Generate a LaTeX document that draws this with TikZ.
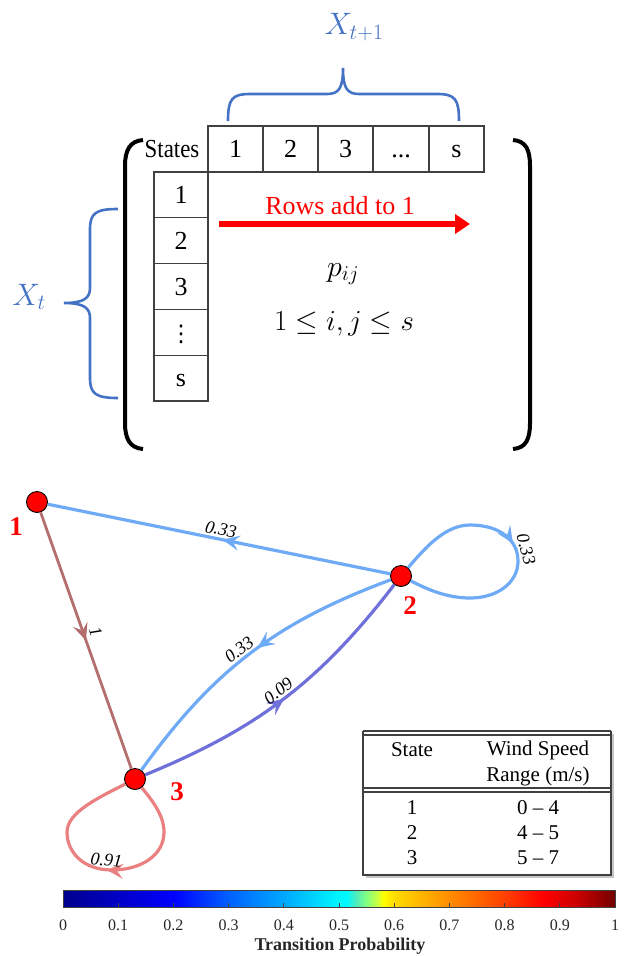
\RequirePackage{fix-cm}
\documentclass[tikz,border=0pt]{standalone}
\usepackage{fontspec}
\setmainfont{Liberation Serif}
\newfontfamily\djv{DejaVu Sans}
\usetikzlibrary{arrows.meta,decorations.markings}
\definecolor{bbrace}{RGB}{68,114,196}
\definecolor{eblue}{RGB}{110,170,245}
\definecolor{epurp}{RGB}{112,112,218}
\definecolor{ebrown}{RGB}{180,110,110}
\definecolor{epink}{RGB}{234,128,128}
\definecolor{gridc}{RGB}{64,64,64}
\definecolor{txtc}{RGB}{38,38,38}
\pgfdeclarehorizontalshading{jetbar}{100bp}{rgb(0bp)=(0,0,0.55); rgb(25bp)=(0,0,0.55);
 rgb(30bp)=(0,0,0.78); rgb(35bp)=(0,0,1); rgb(40bp)=(0,0.38,1); rgb(45bp)=(0,0.66,1);
 rgb(50bp)=(0,0.97,1); rgb(50.7bp)=(0,0.97,1); rgb(51.5bp)=(0.3,0.92,0.75); rgb(52.5bp)=(0.52,1,0.5);
 rgb(53.5bp)=(0.8,1,0.25); rgb(54bp)=(1,1,0); rgb(55bp)=(1,0.86,0); rgb(60bp)=(1,0.55,0);
 rgb(65bp)=(1,0.25,0); rgb(68.5bp)=(1,0,0); rgb(71.5bp)=(0.8,0,0); rgb(75bp)=(0.45,0,0); rgb(100bp)=(0.45,0,0)}
\tikzset{
  fs/.style={font=\fontsize{#1}{#1}\selectfont},
  cell/.style={draw=gridc, line width=1.2pt, minimum width=55pt, minimum height=46pt, inner sep=0pt,
     text height=17.6pt, text depth=0pt, fs=26},
  vcell/.style={draw=gridc, line width=1.2pt, minimum width=54pt, minimum height=45.8pt, inner sep=0pt,
     text height=17.6pt, text depth=0pt, fs=26},
  bracestyle/.style={bbrace, line width=2.6pt},
  brk/.style={black, line width=4pt},
  state/.style={circle, fill=red, draw=black, line width=0.9pt, minimum size=21pt, inner sep=0pt},
  slabel/.style={text=red, font=\fontsize{27}{27}\selectfont\bfseries},
  elab/.style={font=\fontsize{18}{18}\selectfont\itshape, inner sep=2pt, text=black},
  edge/.style={line width=3.2pt},
  midarrow/.style={postaction={decorate}, decoration={markings,
     mark=at position #1 with {\arrow{Stealth[length=17pt,width=15pt,inset=6.5pt]}}}},
  tabtxt/.style={fs=21, text=black},
  tab/.style={gridc, line width=1.2pt},
}
\begin{document}
\begin{tikzpicture}[x=1pt,y=-1pt]
\useasboundingbox (0,0) rectangle (625,956);

% ---------- top: transition matrix ----------
\node[text=bbrace, fs=31] (xt1) at (354,27) {$X_{t+1}$};
\node[text=bbrace, fs=31] (xt) at (29,297) {$X_t$};

% top brace
\draw[bracestyle] (228,121) .. controls (228,99) and (232,94) .. (250,94) -- (327,94)
  .. controls (339,94) and (343,88) .. (343,68) .. controls (343,88) and (347,94) .. (359,94)
  -- (437,94) .. controls (455,94) and (459,99) .. (459,121);
% left brace
\draw[bracestyle] (118,209) .. controls (96,209) and (90,213) .. (90,229) -- (90,288)
  .. controls (90,298) and (84,303) .. (64,303) .. controls (84,303) and (90,308) .. (90,318)
  -- (90,378) .. controls (90,394) and (96,398) .. (118,398);

% big brackets
\draw[brk] (143,140) .. controls (130,141) and (125,150) .. (125,166) -- (125,423)
  .. controls (125,439) and (130,448) .. (143,449);
\draw[brk] (513,140) .. controls (526,141) and (530,150) .. (530,166) -- (530,423)
  .. controls (530,439) and (526,448) .. (513,449);

% header cells
\node[fs=26, xscale=0.88] (states) at (172,149) {States};
\node[cell] (h1) at (235.5,149) {1};
\node[cell] (h2) at (290.5,149) {2};
\node[cell] (h3) at (345.5,149) {3};
\node[cell, minimum width=56pt] (h4) at (401,149) {...};
\node[cell] (h5) at (456.5,149) {s};
% row cells
\node[vcell] (v1) at (181,194.9) {1};
\node[vcell] (v2) at (181,240.7) {2};
\node[vcell] (v3) at (181,286.5) {3};
\node[vcell, font=\fontsize{23}{23}\djv] (v4) at (181,332.3) {⋮};
\node[vcell] (v5) at (181,378.1) {s};

% rows add to 1
\node[text=red, fs=26] (rows) at (340,206) {Rows add to 1};
\coordinate (ra) at (219,224);
\coordinate (rb) at (470,224);
\draw[red, line width=6pt, -{Triangle[length=15pt,width=19pt]}] (ra) -- (rb);

\node[fs=30] (pij) at (343,274) {$p_{ij}$};
\node[fs=29] (rng) at (344,324) {$1\le i,j\le s$};

% ---------- bottom: Markov chain graph ----------
\node[state] (n1) at (37,502) {};
\node[state] (n2) at (401,576) {};
\node[state] (n3) at (135,779) {};
\node[slabel] (l1) at (16,527) {1};
\node[slabel] (l2) at (410,606) {2};
\node[slabel] (l3) at (177,792) {3};

\draw[edge, eblue, midarrow=0.49] (n2) -- node[pos=0.5, sloped, above, elab] (e21) {0.33} (n1);
\draw[edge, ebrown, line width=2.8pt, midarrow=0.5] (n1) -- node[pos=0.48, sloped, above=3pt, elab] (e13) {1} (n3);
\draw[edge, eblue, midarrow=0.47] (n2) to[bend right=17] node[pos=0.52, sloped, above, elab] (e23) {0.33} (n3);
\draw[edge, epurp, midarrow=0.5] (n3) to[bend right=15] node[pos=0.5, sloped, above, elab] (e32) {0.09} (n2);
% self loop at 2
\draw[edge, eblue, midarrow=0.46] (n2) .. controls (425,548) and (445,525) .. (470,525)
  .. controls (500,525) and (518,540) .. node[pos=0.85, sloped, above, elab] (e22) {0.33} (518,561)
  .. controls (518,583) and (497,598) .. (470,598)
  .. controls (445,598) and (425,588) .. (n2);
% self loop at 3
\draw[edge, epink, midarrow=0.48] (n3) .. controls (150,798) and (164,814) .. (164,832)
  .. controls (164,856) and (140,870) .. (112,870)
  .. controls (84,870) and (67,853) .. node[pos=0.08, sloped, above, elab] (e33) {0.91} (67,832)
  .. controls (67,812) and (100,797) .. (n3);

% ---------- table ----------
\draw[gray!45, line width=1.5pt] (613,734) -- (613,877) -- (366,877);
\draw[tab] (363,731) -- (611,731);
\draw[tab] (363,735) -- (611,735);
\draw[tab] (363,731) -- (363,875) -- (611,875) -- (611,731);
\draw[tab] (363,788) -- (611,788);
\draw[tab] (363,792) -- (611,792);
\node[tabtxt] (th1) at (412,750) {State};
\node[tabtxt] (th2) at (538,750) {Wind Speed};
\node[tabtxt] (th3) at (538,776) {Range (m/s)};
\node[tabtxt] (r1a) at (412,808) {1};
\node[tabtxt] (r1b) at (538,808) {0 – 4};
\node[tabtxt] (r2a) at (412,833) {2};
\node[tabtxt] (r2b) at (538,833) {4 – 5};
\node[tabtxt] (r3a) at (412,858) {3};
\node[tabtxt] (r3b) at (538,858) {5 – 7};

% ---------- colorbar ----------
\shade[shading=jetbar] (63,890) rectangle (615,907);
\draw[gridc, line width=1pt] (63,890) rectangle (615,907);
\foreach \k in {1,...,9} \draw[gridc, line width=0.8pt] ({63+55.2*\k},907) -- ++(0,-4);
\foreach \k/\t in {0/0,1/0.1,2/0.2,3/0.3,4/0.4,5/0.5,6/0.6,7/0.7,8/0.8,9/0.9,10/1}
  \node[fs=16, text=txtc] (tk\k) at ({63+55.2*\k},925) {\t};
\node[text=txtc, font=\fontsize{18}{18}\selectfont\bfseries] (cbl) at (340,946) {Transition Probability};
\end{tikzpicture}
\end{document}
